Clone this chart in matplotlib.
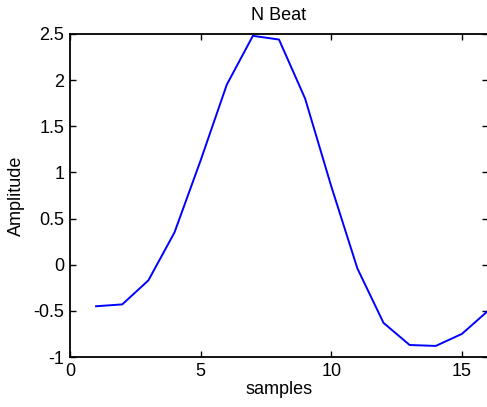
import numpy as np
import matplotlib
matplotlib.use("Agg")
import matplotlib.pyplot as plt
from matplotlib.ticker import FuncFormatter

samples = [1, 2, 3, 4, 5, 6, 7, 8, 9, 10, 11, 12, 13, 14, 15, 16]
amplitude = [-0.45, -0.43, -0.17, 0.35, 1.13, 1.95, 2.48, 2.44, 1.80, 0.85,
             -0.04, -0.63, -0.87, -0.88, -0.75, -0.50]
xticks = [0, 5, 10, 15]
yticks = [-1, -0.5, 0, 0.5, 1, 1.5, 2, 2.5]

plt.rcParams['font.family'] = ['Liberation Sans', 'DejaVu Sans']
plt.rcParams['font.size'] = 13

fig = plt.figure(figsize=(4.87, 4.07), dpi=100)
ax = fig.add_axes([70/487, 50/407, 418/487, 323/407])
ax.plot(samples, amplitude, color='#0000ff', lw=1.4)
ax.set_xlim(0, 16)
ax.set_ylim(-1, 2.5)
ax.set_xticks(xticks)
ax.set_yticks(yticks)
ax.yaxis.set_major_formatter(FuncFormatter(lambda v, p: '%g' % v))
ax.tick_params(direction='in', top=True, right=True, length=4, width=1, pad=4)
for s in ax.spines.values():
    s.set_linewidth(1.3)
ax.set_xlabel('samples', labelpad=1)
ax.set_ylabel('Amplitude', labelpad=6)
ax.set_title('N Beat', fontsize=13, pad=10)
fig.savefig('out.png', dpi=100)
